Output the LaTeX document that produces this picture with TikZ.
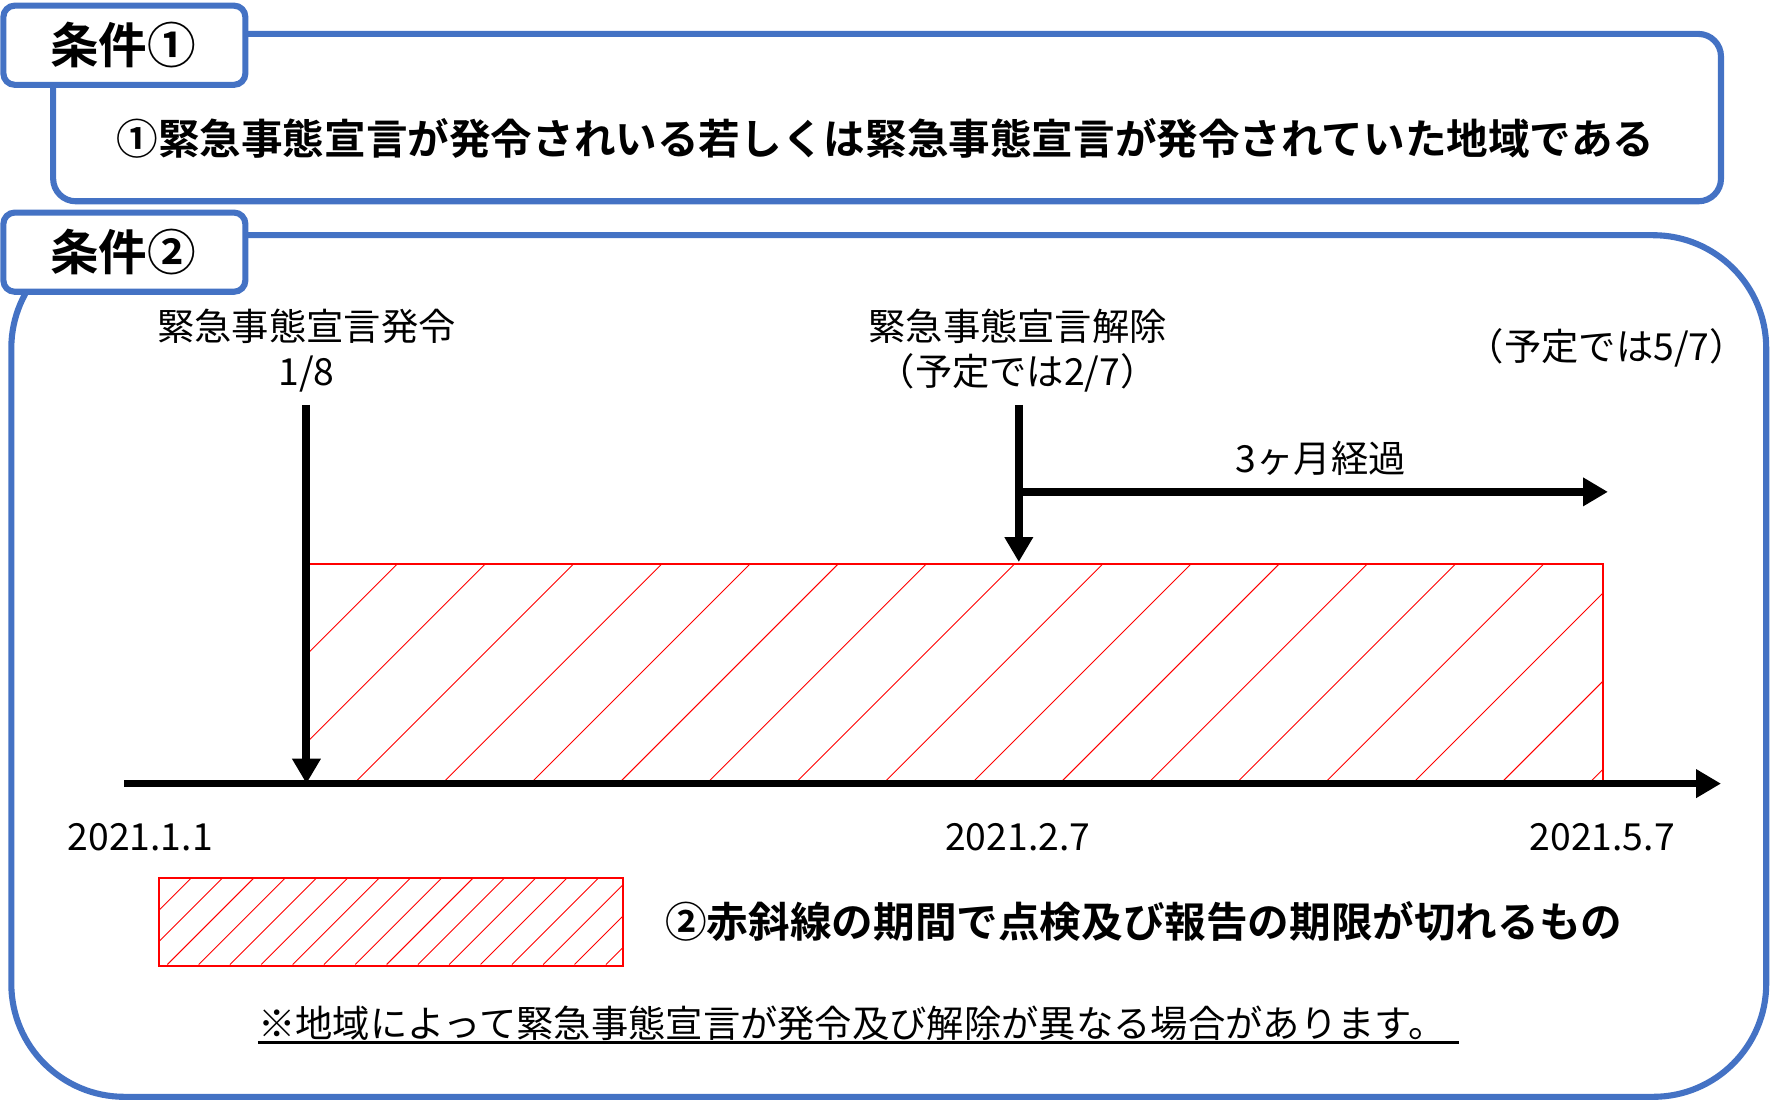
\documentclass[tikz,border=0pt]{standalone}
\usepackage{fontspec}
\setmainfont{Noto Sans CJK JP}[BoldFont={Noto Sans CJK JP Bold}]
\usetikzlibrary{arrows.meta}
\definecolor{frameblue}{HTML}{4472C4}
\definecolor{hatchred}{HTML}{FF0000}
\tikzset{
  frame/.style={draw=frameblue, line width=2.7pt},
  tag/.style={frame, fill=white, rounded corners=5pt},
  tagtext/.style={font=\fontsize{21.5pt}{24pt}\selectfont\bfseries, inner sep=0pt},
  lbl/.style={font=\fontsize{16.5pt}{19.5pt}\selectfont, inner sep=0pt, align=center},
  datelbl/.style={font=\fontsize{16.5pt}{19pt}\selectfont, inner sep=0pt},
  bigarrow/.style={line width=3.5pt, -{Triangle[width=12pt,length=11pt]}},
  hatchbox/.style={draw=hatchred, line width=0.9pt},
  hatchline/.style={draw=hatchred, line width=0.4pt},
}
\begin{document}
\begin{tikzpicture}[x=0.5pt, y=-0.5pt]
\useasboundingbox (0,0) rectangle (1568,973.7);
% condition 1 frame
\draw[frame, rounded corners=10pt] (47,30) rectangle (1522,178);
\node[font=\fontsize{18.4pt}{21pt}\selectfont\bfseries, inner sep=0pt] (c1text) at (783,122) {①緊急事態宣言が発令されいる若しくは緊急事態宣言が発令されていた地域である};
\draw[tag] (3,5) rectangle (217,75);
\node[tagtext] (tag1) at (109,40) {条件①};
% condition 2 frame
\draw[frame, rounded corners=50pt] (10,208) rectangle (1562,970);
\draw[tag] (3,188) rectangle (217,258);
\node[tagtext] (tag2) at (109,223) {条件②};
% hatched period
\begin{scope}
\clip (271,498) rectangle (1417,694);
\foreach \k in {-3,...,15} {
  \draw[hatchline] ({312+78*\k},694) -- ({312+78*\k+196},498);
}
\end{scope}
\node[hatchbox, minimum width=573pt, minimum height=98pt, anchor=north west, inner sep=0pt] (period) at (271,498) {};
% axis
\coordinate (axstart) at (110,693);
\coordinate (axend) at (1522,693);
\draw[bigarrow, line width=3pt] (axstart) -- (axend);
% labels
\node[lbl] (issue) at (271,310) {緊急事態宣言発令\\1/8};
\node[lbl] (release) at (900,310) {緊急事態宣言解除\\（予定では2/7）};
\node[lbl] (planned) at (1421,308) {（予定では5/7）};
\coordinate (issuetop) at (271,358);
\coordinate (issuebot) at (271,693);
\coordinate (reltop) at (901,358);
\coordinate (relbot) at (901,497);
\coordinate (threestart) at (901,435);
\coordinate (threeend) at (1422,435);
\draw[bigarrow] (issuetop) -- (issuebot);
\draw[bigarrow] (reltop) -- (relbot);
\draw[bigarrow] (threestart) -- (threeend);
\node[lbl] (three) at (1168,405) {3ヶ月経過};
\node[datelbl] (d1) at (124,740) {2021.1.1};
\node[datelbl] (d2) at (900,740) {2021.2.7};
\node[datelbl] (d3) at (1417,740) {2021.5.7};
% legend
\begin{scope}
\clip (140,776) rectangle (550,853);
\foreach \k in {-3,...,16} {
  \draw[hatchline] ({148+27.7*\k},853) -- ({148+27.7*\k+77},776);
}
\end{scope}
\node[hatchbox, minimum width=205pt, minimum height=38.5pt, anchor=north west, inner sep=0pt] (legend) at (140,776) {};
\node[font=\fontsize{18.4pt}{21pt}\selectfont\bfseries, inner sep=0pt, anchor=west] (legtext) at (588,815) {②赤斜線の期間で点検及び報告の期限が切れるもの};
% note
\node[lbl, anchor=west] (note) at (228,905) {※地域によって緊急事態宣言が発令及び解除が異なる場合があります。};
\coordinate (ulstart) at (228,922);
\coordinate (ulend) at (1290,922);
\draw[line width=1pt] (ulstart) -- (ulend);
\end{tikzpicture}
\end{document}
